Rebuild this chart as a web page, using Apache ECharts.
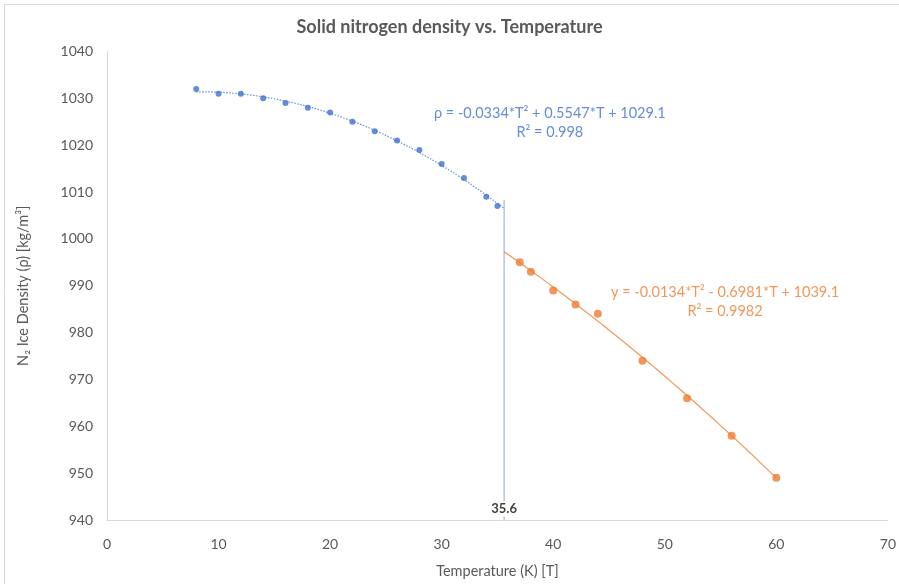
<!DOCTYPE html>
<html>
<head>
<meta charset="utf-8">
<script src="https://cdn.jsdelivr.net/npm/echarts@6/dist/echarts.min.js"></script>
<style>
  html, body { margin: 0; padding: 0; background: #fff; }
  #chart { width: 899px; height: 584px; }
</style>
</head>
<body>
<div id="chart"></div>
<script>
// measured points, alpha phase (blue) and beta phase (orange)
const tempAlpha = [8, 10, 12, 14, 16, 18, 20, 22, 24, 26, 28, 30, 32, 34, 35];
const rhoAlpha = [1032, 1031, 1031, 1030, 1029, 1028, 1027, 1025, 1023, 1021, 1019, 1016, 1013, 1009, 1007];
const tempBeta = [37, 38, 40, 42, 44, 48, 52, 56, 60];
const rhoBeta = [995, 993, 989, 986, 984, 974, 966, 958, 949];

// trendline coefficients as printed on the chart [a, b, c]
const fitAlpha = [-0.0334, 0.5547, 1029.1];
const fitBeta = [-0.0134, -0.6981, 1039.1];
const transitionT = 35.6;
const transitionTop = 1008.3;

const xTicks = [0, 10, 20, 30, 40, 50, 60, 70];
const yTicks = [940, 950, 960, 970, 980, 990, 1000, 1010, 1020, 1030, 1040];

const blue = "#3f6fcf";
const orange = "#ed7d31";
const font = "Lato";

function trend(coef, t0, t1) {
  const pts = [];
  const n = 40;
  for (let i = 0; i <= n; i++) {
    const t = t0 + ((t1 - t0) * i) / n;
    pts.push([t, coef[0] * t * t + coef[1] * t + coef[2]]);
  }
  return pts;
}

const chart = echarts.init(document.getElementById("chart"));

const option = {
  animation: false,
  textStyle: { fontFamily: font },
  title: {
    text: "Solid nitrogen density vs. Temperature",
    left: "center",
    top: 13,
    textStyle: { fontSize: 18, fontWeight: "bold", color: "#595959", fontFamily: font },
  },
  graphic: [
    {
      type: "rect",
      shape: { x: 4.5, y: 4.5, width: 900, height: 600 },
      style: { fill: "none", stroke: "#d9d9d9", lineWidth: 1 },
      silent: true,
      z: -1,
    },
  ],
  grid: { left: 107, right: 8, top: 51.5, bottom: 62.5, containLabel: false },
  xAxis: {
    type: "value",
    min: xTicks[0],
    max: xTicks[xTicks.length - 1],
    interval: 10,
    name: "Temperature (K) [T]",
    nameLocation: "middle",
    nameGap: 44,
    nameTextStyle: { fontSize: 14.5, color: "#595959" },
    axisLine: { show: true, lineStyle: { color: "#d9d9d9", width: 1 } },
    axisTick: { show: false },
    splitLine: { show: false },
    axisLabel: { color: "#595959", fontSize: 14, margin: 17 },
  },
  yAxis: {
    type: "value",
    min: yTicks[0],
    max: yTicks[yTicks.length - 1],
    interval: 10,
    name: "N\u2082 Ice Density (\u03c1) [kg/m\u00b3]",
    nameLocation: "middle",
    nameGap: 76,
    nameRotate: 90,
    nameTextStyle: { fontSize: 14.5, color: "#595959" },
    axisLine: { show: true, lineStyle: { color: "#d9d9d9", width: 1 } },
    axisTick: { show: false },
    splitLine: { show: false },
    axisLabel: { color: "#595959", fontSize: 14, margin: 14, formatter: (v) => String(v) },
  },
  series: [
    {
      name: "transition",
      type: "line",
      data: [[transitionT, yTicks[0]], [transitionT, transitionTop]],
      showSymbol: false,
      symbol: "none",
      lineStyle: { color: "#b4c7e7", width: 1.5 },
      z: 1,
      markPoint: {
        symbol: "rect",
        symbolSize: [32, 15],
        symbolOffset: [0, -11],
        itemStyle: { color: "#fff" },
        label: {
          show: true,
          formatter: "35.6",
          color: "#404040",
          fontSize: 13,
          fontWeight: "bold",
        },
        data: [{ coord: [transitionT, yTicks[0]] }],
      },
    },
    {
      name: "fitAlpha",
      type: "line",
      data: trend(fitAlpha, tempAlpha[0], transitionT),
      showSymbol: false,
      symbol: "none",
      smooth: true,
      lineStyle: { color: blue, width: 1.2, type: [1.5, 1.5], opacity: 0.8 },
      z: 2,
    },
    {
      name: "fitBeta",
      type: "line",
      data: trend(fitBeta, transitionT, tempBeta[tempBeta.length - 1]),
      showSymbol: false,
      symbol: "none",
      smooth: true,
      lineStyle: { color: orange, width: 1.2, opacity: 0.8 },
      z: 2,
    },
    {
      name: "alpha",
      type: "scatter",
      data: tempAlpha.map((t, i) => [t, rhoAlpha[i]]),
      symbolSize: 6,
      itemStyle: { color: blue },
      z: 3,
    },
    {
      name: "beta",
      type: "scatter",
      data: tempBeta.map((t, i) => [t, rhoBeta[i]]),
      symbolSize: 8,
      itemStyle: { color: orange },
      z: 3,
    },
    {
      name: "equations",
      type: "scatter",
      symbolSize: 0,
      silent: true,
      data: [
        {
          value: [39.7, 1024.7],
          label: {
            show: true,
            position: "inside",
            formatter: "\u03c1 = -0.0334*T\u00b2 + 0.5547*T + 1029.1\nR\u00b2 = 0.998",
            color: blue,
            fontSize: 14.5,
            lineHeight: 19,
            align: "center",
          },
        },
        {
          value: [55.4, 986.6],
          label: {
            show: true,
            position: "inside",
            formatter: "y = -0.0134*T\u00b2 - 0.6981*T + 1039.1\nR\u00b2 = 0.9982",
            color: orange,
            fontSize: 14.5,
            lineHeight: 19,
            align: "center",
          },
        },
      ],
      z: 4,
    },
  ],
};

chart.setOption(option);
</script>
</body>
</html>
